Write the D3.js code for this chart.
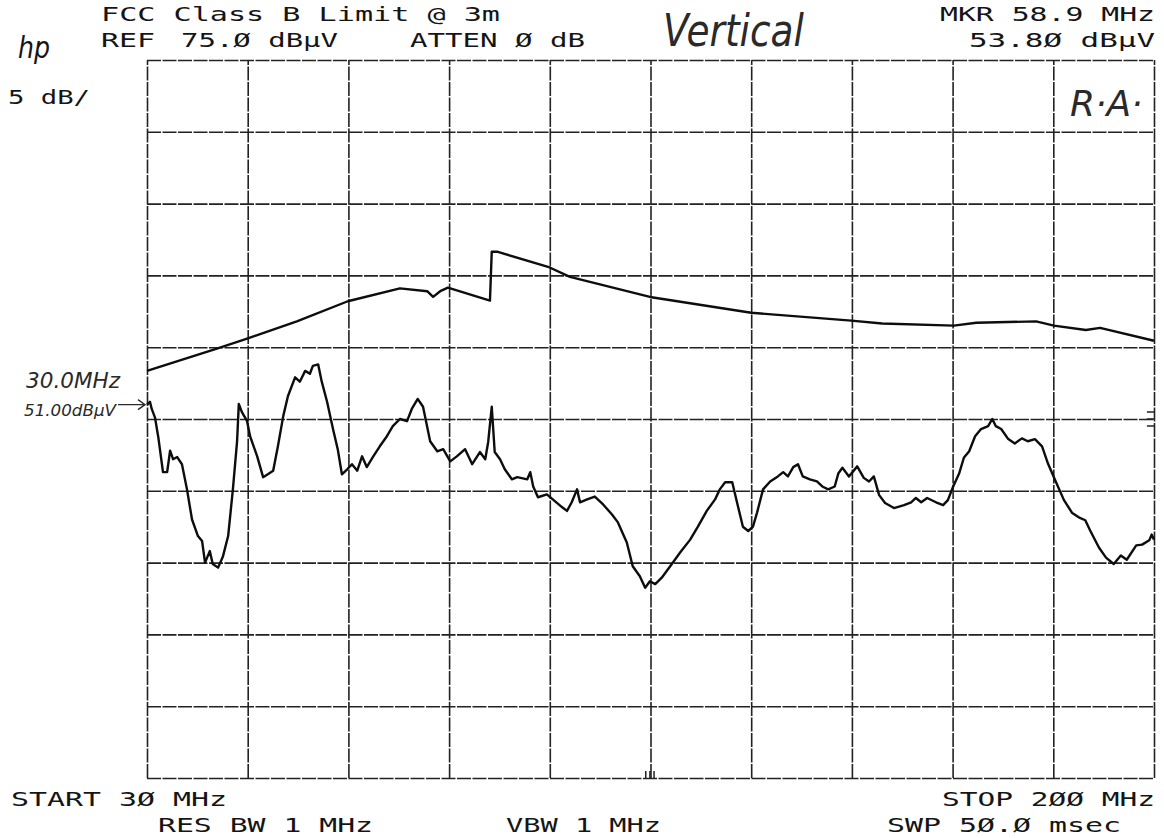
<!DOCTYPE html>
<html lang="en">
<head>
  <meta charset="UTF-8">
  <title>FCC Class B Limit @ 3m - Vertical</title>
  <script src="https://d3js.org/d3.v7.min.js"></script>
  <style>
    body {
      margin: 0;
      background: #fff;
    }
    svg { display: block; }
    .plot {
      font-family: "DejaVu Sans Mono", monospace;
      fill: #151515;
    }
    .hand {
      font-family: "DejaVu Sans", sans-serif;
      font-weight: 200;
      font-style: italic;
      fill: #2a2a2a;
    }
    .grid line {
      stroke: #222;
      stroke-width: 1.6;
      stroke-dasharray: 14 1.5;
    }
    .trace {
      fill: none;
      stroke: #0d0d0d;
      stroke-width: 2.4;
      stroke-linejoin: round;
    }
  </style>
</head>
<body>
  <svg width="1164" height="838"></svg>
  <script>
    // limit line (upper trace)
    const limitFreq = [30.0, 41.8, 46.9, 55.3, 63.9, 72.7, 77.3, 78.3, 79.5, 80.8, 87.9, 88.2, 89.1,
      97.7, 101.4, 114.9, 132.0, 148.9, 154.1, 166.2, 170.0, 180.1, 183.1, 188.5, 190.9, 200.0];
    const limitLevel = [53.35, 54.9, 55.6, 56.8, 58.2, 59.1, 58.9, 58.5, 58.9, 59.15, 58.25, 61.65, 61.65,
      60.6, 59.9, 58.5, 57.4, 56.85, 56.65, 56.5, 56.7, 56.8, 56.5, 56.2, 56.35, 55.45];

    // measured emission (lower trace)
    const measFreq = [30.0, 30.5, 30.8, 31.35, 31.9, 32.7, 33.4, 33.9, 34.4, 35.1, 35.9, 36.75, 37.6, 38.6,
      39.3, 39.8, 40.6, 41.1, 42.0, 42.8, 43.7, 44.5, 45.2, 45.5, 46.0, 46.9, 47.4, 48.6, 49.6, 50.4,
      51.3, 52.1, 53.0, 53.8, 55.0, 55.8, 56.7, 57.5, 58.0, 58.9, 59.5, 60.4, 61.4, 62.2, 62.9, 63.8,
      64.6, 65.5, 66.3, 67.1, 68.2, 69.3, 70.5, 71.5, 72.7, 73.9, 74.7, 75.7, 76.6, 77.8, 79.0, 80.0,
      81.2, 82.3, 83.7, 84.9, 86.2, 87.1, 87.6, 88.2, 88.7, 89.6, 90.4, 91.6, 92.5, 94.2, 94.7, 95.2,
      96.0, 97.5, 98.5, 100.1, 100.9, 101.7, 102.6, 103.1, 104.3, 105.6, 107.0, 108.5, 109.5, 111.0,
      112.0, 113.2, 114.1, 114.9, 115.8, 116.9, 118.6, 120.0, 121.7, 123.0, 124.5, 125.9, 126.7, 127.6,
      128.8, 129.6, 130.6, 131.5, 132.3, 133.0, 134.0, 135.2, 136.5, 137.4, 138.2, 139.1, 139.9, 140.7,
      141.9, 143.1, 144.0, 145.0, 146.1, 146.7, 147.4, 148.5, 149.9, 151.0, 151.9, 152.7, 153.6, 154.6,
      156.1, 157.8, 159.0, 159.8, 160.7, 161.7, 163.2, 164.4, 165.2, 166.1, 167.1, 167.9, 168.8, 169.8,
      170.8, 172.0, 172.7, 173.3, 174.2, 175.4, 176.5, 177.7, 178.7, 179.9, 181.1, 182.1, 183.3, 184.8,
      186.2, 187.3, 188.4, 189.2, 190.7, 191.9, 193.2, 194.4, 195.4, 197.0, 198.0, 199.2, 199.6, 200.0];
    const measLevel = [51.0, 51.2, 50.7, 50.1, 48.75, 46.3, 46.3, 47.8, 47.2, 47.35, 46.85, 45.1, 43.0, 41.85,
      41.5, 40.0, 40.8, 39.9, 39.65, 40.4, 41.85, 45.1, 48.4, 51.05, 50.5, 49.85, 48.8, 47.4, 45.95, 46.15,
      46.4, 48.1, 50.2, 51.6, 52.9, 52.6, 53.35, 53.15, 53.7, 53.8, 52.6, 51.2, 49.3, 47.9, 46.15, 46.5,
      46.85, 46.4, 47.4, 46.65, 47.4, 48.1, 48.8, 49.5, 50.0, 49.85, 50.7, 51.4, 50.85, 48.45, 47.75, 47.9,
      47.05, 47.4, 47.9, 46.85, 47.7, 47.2, 48.4, 50.85, 47.7, 47.2, 46.5, 45.8, 45.95, 45.8, 46.3, 45.3,
      44.55, 44.75, 44.4, 43.85, 43.6, 44.2, 45.1, 44.2, 44.4, 44.6, 44.05, 43.35, 42.8, 41.4,
      39.75, 39.05, 38.25, 38.7, 38.5, 38.95, 39.9, 40.7, 41.6, 42.5, 43.6, 44.4, 45.1, 45.6,
      45.6, 44.2, 42.5, 42.2, 42.5, 43.5, 45.1, 45.65, 46.0, 46.3, 46.0, 46.65, 46.85, 46.0,
      45.8, 45.65, 45.3, 45.1, 45.3, 46.2, 46.6, 46.0, 46.7, 45.9, 45.65, 46.0, 44.7, 44.15,
      43.8, 44.0, 44.2, 44.5, 44.2, 44.5, 44.2, 44.0, 44.35, 45.3, 46.2, 47.3, 47.75, 48.8,
      49.3, 49.5, 50.0, 49.5, 49.3, 48.6, 48.3, 48.65, 48.45, 48.6, 48.1, 46.9, 45.75, 44.35,
      43.45, 43.15, 42.95, 42.25, 41.05, 40.35, 39.9, 40.5, 40.2, 41.2, 41.25, 41.55, 41.95, 41.6];

    // graticule divisions: 17 MHz/div, 5 dB/div
    const xTicks = [30, 47, 64, 81, 98, 115, 132, 149, 166, 183, 200];
    const yTicks = [25, 30, 35, 40, 45, 50, 55, 60, 65, 70, 75];

    const markerFreq = 30.0, markerLevel = 51.0;

    const svg = d3.select("svg");

    const x = d3.scaleLinear().domain([30, 200]).range([147, 1154]);
    const y = d3.scaleLinear().domain([25, 75]).range([778, 60]);

    // graticule
    const gx = svg.append("g")
      .attr("class", "grid")
      .attr("transform", `translate(0,${y(25)})`)
      .call(d3.axisBottom(x).tickValues(xTicks).tickSize(-(y(25) - y(75))).tickFormat(""));
    gx.select(".domain").remove();

    const gy = svg.append("g")
      .attr("class", "grid")
      .attr("transform", `translate(${x(30)},0)`)
      .call(d3.axisLeft(y).tickValues(yTicks).tickSize(-(x(200) - x(30))).tickFormat(""));
    gy.select(".domain").remove();

    // traces
    const line = d3.line().x(d => x(d[0])).y(d => y(d[1]));

    svg.append("path")
      .attr("class", "trace")
      .attr("d", line(d3.zip(limitFreq, limitLevel)));

    svg.append("path")
      .attr("class", "trace")
      .attr("d", line(d3.zip(measFreq, measLevel)));

    // small reference marks on right edge and bottom
    [-7, 0, 7].forEach(dy => {
      svg.append("line")
        .attr("x1", x(198.8)).attr("x2", x(200))
        .attr("y1", y(50) + dy).attr("y2", y(50) + dy)
        .attr("stroke", "#222").attr("stroke-width", 1.5);
    });
    [114.2, 114.9, 115.6].forEach(f => {
      svg.append("line")
        .attr("x1", x(f)).attr("x2", x(f))
        .attr("y1", y(25) - 7).attr("y2", y(25))
        .attr("stroke", "#222").attr("stroke-width", 1.5);
    });

    // plotter annotations
    function plotText(str, x0, base, width, size) {
      svg.append("text")
        .attr("class", "plot")
        .attr("x", x0)
        .attr("y", base)
        .attr("font-size", size || 19)
        .attr("textLength", width)
        .attr("lengthAdjust", "spacingAndGlyphs")
        .text(str);
    }

    plotText("FCC Class B Limit @ 3m", 101, 21, 399);
    plotText("REF", 101, 47, 54);
    plotText("75.\u00d8 dB\u00b5V", 181, 47, 157);
    plotText("ATTEN \u00d8 dB", 410, 47, 175);
    plotText("MKR 58.9 MHz", 940, 21, 215);
    plotText("53.8\u00d8 dB\u00b5V", 969, 47, 186);
    plotText("5 dB/", 8, 104, 82);
    plotText("START 3\u00d8 MHz", 11, 806, 216);
    plotText("RES BW 1 MHz", 158, 832, 215);
    plotText("VBW 1 MHz", 506, 832, 155);
    plotText("STOP 2\u00d8\u00d8 MHz", 942, 806, 213);
    plotText("SWP 5\u00d8.\u00d8 msec", 887, 832, 234);

    // hp logo
    svg.append("text")
      .attr("x", 18).attr("y", 58)
      .attr("font-family", "DejaVu Sans")
      .attr("font-style", "italic")
      .attr("font-size", 30)
      .attr("textLength", 32)
      .attr("lengthAdjust", "spacingAndGlyphs")
      .attr("fill", "#151515")
      .text("hp");

    // handwritten notes
    svg.append("text").attr("class", "hand")
      .attr("x", 663).attr("y", 46).attr("font-size", 44)
      .attr("textLength", 141).attr("lengthAdjust", "spacingAndGlyphs")
      .text("Vertical");
    svg.append("text").attr("class", "hand")
      .attr("x", 1070).attr("y", 116).attr("font-size", 36)
      .text("R\u00b7A\u00b7");
    svg.append("text").attr("class", "hand")
      .attr("x", 26).attr("y", 388).attr("font-size", 21)
      .attr("textLength", 94).attr("lengthAdjust", "spacingAndGlyphs")
      .text("30.0MHz");
    svg.append("text").attr("class", "hand")
      .attr("x", 24).attr("y", 416).attr("font-size", 16)
      .attr("textLength", 92).attr("lengthAdjust", "spacingAndGlyphs")
      .text("51.00dB\u00b5V");
    svg.append("path")
      .attr("d", `M118,${y(markerLevel)}L${x(markerFreq) - 2},${y(markerLevel)}M${x(markerFreq) - 9},${y(markerLevel) - 5}L${x(markerFreq) - 2},${y(markerLevel)}L${x(markerFreq) - 9},${y(markerLevel) + 5}`)
      .attr("fill", "none").attr("stroke", "#2a2a2a").attr("stroke-width", 1.4);
  </script>
</body>
</html>
